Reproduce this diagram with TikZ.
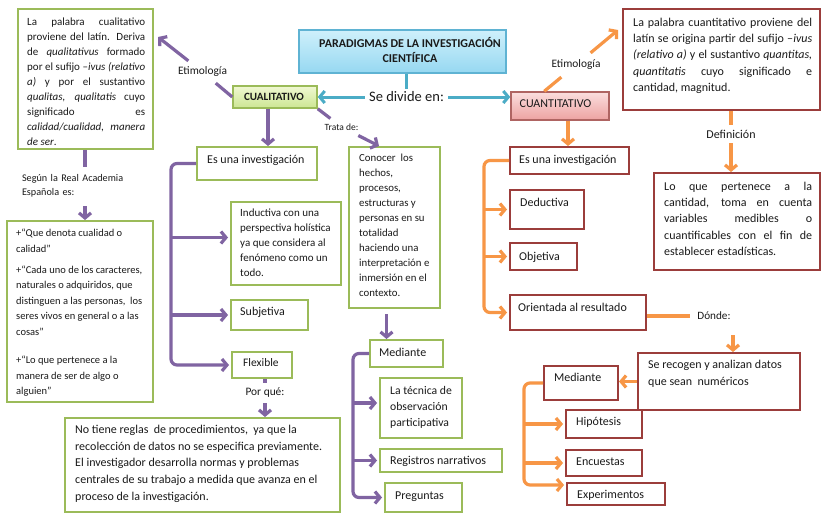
\documentclass[tikz,border=0pt]{standalone}
\usepackage{fontspec}
\setmainfont{Carlito}
\usetikzlibrary{arrows.meta,calc,shadows}
\hyphenpenalty=10000
\exhyphenpenalty=10000
\tolerance=10000
\definecolor{purp}{HTML}{8064A2}
\definecolor{orng}{HTML}{F79646}
\definecolor{tealc}{HTML}{4BACC6}
\definecolor{gbord}{HTML}{9BBB59}
\definecolor{rbord}{HTML}{9B3D3B}
\definecolor{tbord}{HTML}{5FB3D3}
\definecolor{ttop}{HTML}{CFF0FB}
\definecolor{tbot}{HTML}{96D8F1}
\definecolor{gtop}{HTML}{F0F8D2}
\definecolor{gbot}{HTML}{CCE693}
\definecolor{ptop}{HTML}{FBDEDE}
\definecolor{pbot}{HTML}{EDA2A1}
\definecolor{txtc}{HTML}{1A1A1A}
\newcommand\fsz[2]{\fontsize{#1pt}{#2pt}\selectfont}
\newcommand\Bx[6]{\node[#2, minimum width={(#5)-(#3)}, minimum height={(#6)-(#4)}] (#1) at ({((#3)+(#5))/2},{((#4)+(#6))/2}) {};}
\tikzset{
  gbox/.style={draw=gbord, line width=2pt, fill=white, inner sep=0pt},
  rbox/.style={draw=rbord, line width=2pt, fill=white, inner sep=0pt},
  shad/.style={drop shadow={shadow xshift=1.3pt, shadow yshift=-1.3pt, opacity=0.25}},
  titlebox/.style={draw=tbord, line width=1.5pt, top color=ttop, bottom color=tbot, inner sep=0pt, shad},
  cualbox/.style={draw=gbord, line width=1.5pt, top color=gtop, bottom color=gbot, inner sep=0pt, shad},
  cuantbox/.style={draw=rbord!80!white, line width=1.5pt, top color=ptop, bottom color=pbot, inner sep=0pt, shad},
  mtxt/.style={inner sep=0pt, anchor=north west, align=left, text=txtc},
  jtxt/.style={inner sep=0pt, anchor=north west, align=justify, text=txtc},
  stxt/.style={inner sep=0pt, anchor=base west, text=txtc},
  lbl/.style={inner sep=5pt, text=txtc},
  pl/.style={draw=purp, line width=3.2pt},
  ol/.style={draw=orng, line width=3.2pt},
  tl/.style={draw=tealc, line width=3pt},
  arr/.style={-{Straight Barb[length=5pt,width=12pt]}},
}
\begin{document}
\begin{tikzpicture}[x=1pt,y=-1pt,font=\fsz{12}{14}]
\fill[white] (0,0) rectangle (834,519);
\useasboundingbox (0,0) rectangle (834,519);

% ---------- boxes ----------
\Bx{etiL}{gbox}{18}{9}{153}{149}
\Bx{rae}{gbox}{7}{221}{153}{402}
\Bx{invC}{gbox}{197}{147}{317}{180}
\Bx{induc}{gbox}{231}{202}{341}{285}
\Bx{subj}{gbox}{231}{300}{308}{330}
\Bx{flex}{gbox}{232}{352}{292}{378}
\Bx{conoc}{gbox}{349}{147}{440}{308}
\Bx{nota}{gbox}{65}{418}{340}{512}
\Bx{medC}{gbox}{370}{340}{443}{367}
\Bx{tec}{gbox}{380}{378}{462}{438}
\Bx{regis}{gbox}{380}{449}{502}{472}
\Bx{preg}{gbox}{385}{483}{462}{512}

\Bx{etiR}{rbox}{623}{9}{820}{110}
\Bx{invQ}{rbox}{510}{147}{629}{174}
\Bx{deduct}{rbox}{510}{190}{584}{229}
\Bx{obj}{rbox}{510}{243}{577}{270}
\Bx{orient}{rbox}{510}{295}{646}{330}
\Bx{loque}{rbox}{654}{173}{820}{270}
\Bx{recogen}{rbox}{638}{353}{800}{410}
\Bx{medQ}{rbox}{544}{366}{618}{400}
\Bx{hipo}{rbox}{566}{410}{642}{438}
\Bx{encu}{rbox}{566}{450}{642}{476}
\Bx{exper}{rbox}{567}{483}{665}{505}

\Bx{title}{titlebox}{299}{30}{506}{73}
\Bx{cual}{cualbox}{233}{86}{317}{108}
\Bx{cuant}{cuantbox}{511}{92}{609}{120}

% ---------- texts ----------
\node[inner sep=0pt, anchor=north, align=center, text=txtc, font=\bfseries\fsz{12}{15}] (ttl) at (410,36.7) {\strut PARADIGMAS DE LA INVESTIGACIÓN\\CIENTÍFICA};
\node[inner sep=0pt, anchor=base, text=txtc, font=\bfseries\fsz{11.1}{14}] (cualt) at (274,100.5) {CUALITATIVO};
\node[inner sep=0pt, anchor=base, text=txtc, font=\fsz{12}{14}] (cuantt) at (555.5,107) {CUANTITATIVO};

\node[jtxt, text width=118pt, font=\fsz{11}{15}] (tEtiL) at (27,14.8) {\strut La palabra cualitativo\linebreak proviene del latín. Deriva\linebreak de \textit{qualitativus} formado\linebreak por el sufijo –\textit{ivus (relativo}\linebreak \textit{a)} y por el sustantivo\linebreak \textit{qualitas, qualitatis} cuyo\linebreak significado es\linebreak \textit{calidad/cualidad, manera}\linebreak \textit{de ser}.};

\node[mtxt, font=\fsz{10.5}{15.5}] (tRae) at (16,225.5) {\strut +“Que denota cualidad o\\calidad”\\[5.5pt]+“Cada uno de los caracteres,\\naturales o adquiridos, que\\distinguen a las personas,~ los\\seres vivos en general o a las\\cosas”\\[13pt]+“Lo que pertenece a la\\manera de ser de algo o\\alguien”};

\node[mtxt, font=\fsz{11}{15}] (tInduc) at (240,205.8) {\strut Inductiva con una\\perspectiva holística\\ya que considera al\\fenómeno como un\\todo.};
\node[mtxt, font=\fsz{10.8}{15}] (tConoc) at (359,150.8) {\strut Conocer~ los\\hechos,\\procesos,\\estructuras y\\personas en su\\totalidad\\haciendo una\\interpretación e\\inmersión en el\\contexto.};
\node[mtxt, font=\fsz{11.7}{16}] (tTec) at (390,383.1) {\strut La técnica de\\observación\\participativa};
\node[mtxt, font=\fsz{12}{16.7}] (tNota) at (75,421.6) {\strut No tiene reglas~ de procedimientos,~ ya que la\\recolección de datos no se especifica previamente.\\El investigador desarrolla normas y problemas\\centrales de su trabajo a medida que avanza en el\\proceso de la investigación.};

\node[jtxt, text width=179pt, font=\fsz{12}{16.25}] (tEtiR) at (633,14.9) {\strut La palabra cuantitativo proviene del\linebreak latín se origina partir del sufijo –\textit{ivus}\linebreak \textit{(relativo a)} y el sustantivo \textit{quantitas,}\linebreak \textit{quantitatis} cuyo significado e\linebreak cantidad, magnitud.};
\node[jtxt, text width=148pt, font=\fsz{12}{16.25}] (tLoque) at (664,178.9) {\strut Lo que pertenece a la\linebreak cantidad, toma en cuenta\linebreak variables medibles o\linebreak cuantificables con el fin de\linebreak establecer estadísticas.};
\node[mtxt, font=\fsz{12}{17}] (tRecog) at (648,356.4) {\strut Se recogen y analizan datos\\que sean~ numéricos};

\node[stxt] (tInvC) at (207,163.3) {Es una investigación};
\node[stxt] (tSubj) at (240,315.3) {Subjetiva};
\node[stxt, font=\fsz{11.5}{14}] (tFlex) at (243,366) {Flexible};
\node[stxt] (tMedC) at (379,356.3) {Mediante};
\node[stxt] (tRegis) at (390,464.3) {Registros narrativos};
\node[stxt] (tPreg) at (395,499.3) {Preguntas};
\node[stxt] (tInvQ) at (519,163.3) {Es una investigación};
\node[stxt] (tDeduct) at (520,206.3) {Deductiva};
\node[stxt] (tObj) at (519,260.3) {Objetiva};
\node[stxt] (tOrient) at (518,311.3) {Orientada al resultado};
\node[stxt] (tMedQ) at (554,381.3) {Mediante};
\node[stxt] (tHipo) at (576,425.3) {Hipótesis};
\node[stxt] (tEncu) at (576,465.3) {Encuestas};
\node[stxt] (tExper) at (577,498.3) {Experimentos};

% ---------- connector labels ----------
\node[lbl, inner sep=6pt, font=\fsz{11.4}{14}] (etimL) at (202.5,72) {Etimología};
\node[lbl, inner sep=7pt, font=\fsz{11.4}{14}] (etimR) at (576,65) {Etimología};
\node[lbl, inner xsep=4pt, inner ysep=3pt, font=\fsz{14.5}{16}] (divide) at (406.5,97) {Se divide en:};
\node[lbl, font=\fsz{9.5}{12}] (trata) at (341.5,127) {Trata de:};
\node[lbl, inner xsep=0pt, inner ysep=4pt, text width=126pt, align=left, font=\fsz{10.2}{14.3}] (segun) at (85,184) {\strut Según la Real Academia\\Española es:};
\node[lbl, font=\fsz{12}{14}] (defin) at (731,134) {Definición};
\node[lbl, font=\fsz{11.4}{14}] (porque) at (265,393) {Por qué:};
\node[lbl, inner xsep=7pt, font=\fsz{11.2}{14}] (donde) at (714,316) {Dónde:};

% ---------- teal connectors ----------
\draw[tl] (divide |- title.south) -- (divide.north);
\draw[tl,arr] (divide.west) -- (cual.east |- divide);
\draw[tl,arr] (divide.east) -- (cuant.west |- divide);

% ---------- purple connectors ----------
\coordinate (eL) at ($(etiL.north east)+(4,29)$);
\draw[pl] (cual.west) -- (etimL);
\draw[pl,arr] (etimL) -- (eL);
\draw[pl] (etiL.south -| segun) -- (segun);
\draw[pl,arr,shorten <=5pt] (segun) -- (segun |- rae.north);
\coordinate (a1) at ($(cual.south)+(-7,0)$);
\draw[pl,arr] (a1) -- (a1 |- invC.north);
\coordinate (bL) at (171,0);
\draw[pl,arr,rounded corners=6pt,shorten >=2pt] (invC.west) -| (bL |- flex.west) -- (flex.west);
\coordinate (iL) at ($(induc.west)+(0,-6)$);
\draw[pl,arr,shorten >=2pt] (bL |- iL) -- (iL);
\draw[pl,arr,shorten >=2pt] (bL |- subj.west) -- (subj.west);
\coordinate (cT) at ($(conoc.north west)+(31,0)$);
\draw[pl] (cual.south east) -- (trata);
\draw[pl,arr] (trata) -- (cT);
\draw[pl] (flex.south -| porque) -- (porque);
\draw[pl,arr] (porque) -- (porque |- nota.north);
\coordinate (cB) at ($(conoc.south)+(-8,5)$);
\draw[pl,arr] (cB) -- (cB |- medC.north);
\coordinate (bM) at (353,0);
\draw[pl,arr,rounded corners=6pt,shorten >=2pt] (medC.west) -| (bM |- preg.west) -- (preg.west);
\coordinate (tT) at ($(tec.west)+(0,-5)$);
\draw[pl,arr,shorten >=2pt] (bM |- tT) -- (tT);
\draw[pl,arr,shorten >=2pt] (bM |- regis.west) -- (regis.west);

% ---------- orange connectors ----------
\coordinate (cq) at ($(cuant.north west)+(34,0)$);
\coordinate (eR) at ($(etiR.north west)+(-4,22)$);
\draw[ol] (cq) -- (etimR);
\draw[ol,arr] (etimR) -- (eR);
\coordinate (cq2) at ($(cuant.south)+(8,0)$);
\draw[ol,arr] (cq2) -- (cq2 |- invQ.north);
\coordinate (bQ) at (484,0);
\draw[ol,arr,rounded corners=6pt,shorten >=2pt] (invQ.west) -| (bQ |- orient.west) -- (orient.west);
\draw[ol,arr,shorten >=2pt] (bQ |- deduct.west) -- (deduct.west);
\draw[ol,arr,shorten >=2pt] (bQ |- obj.west) -- (obj.west);
\draw[ol] (orient.east |- donde) -- (donde);
\coordinate (dA) at ($(donde.south)+(19,0)$);
\draw[ol,arr,shorten <=10pt] (dA) -- (dA |- recogen.north);
\draw[ol,arr] (recogen.west) -- (recogen.west -| medQ.east);
\coordinate (bR) at (524,0);
\coordinate (xE) at ($(exper.west)+(0,-9)$);
\draw[ol,arr,rounded corners=6pt,shorten >=2pt] (medQ.west) -| (bR |- xE) -- (xE);
\draw[ol,arr,shorten >=2pt] (bR |- hipo.west) -- (hipo.west);
\draw[ol,arr,shorten >=2pt] (bR |- encu.west) -- (encu.west);
\draw[ol] (etiR.south -| defin) -- (defin);
\draw[ol,arr] (defin) -- (defin |- loque.north);
\end{tikzpicture}
\end{document}
